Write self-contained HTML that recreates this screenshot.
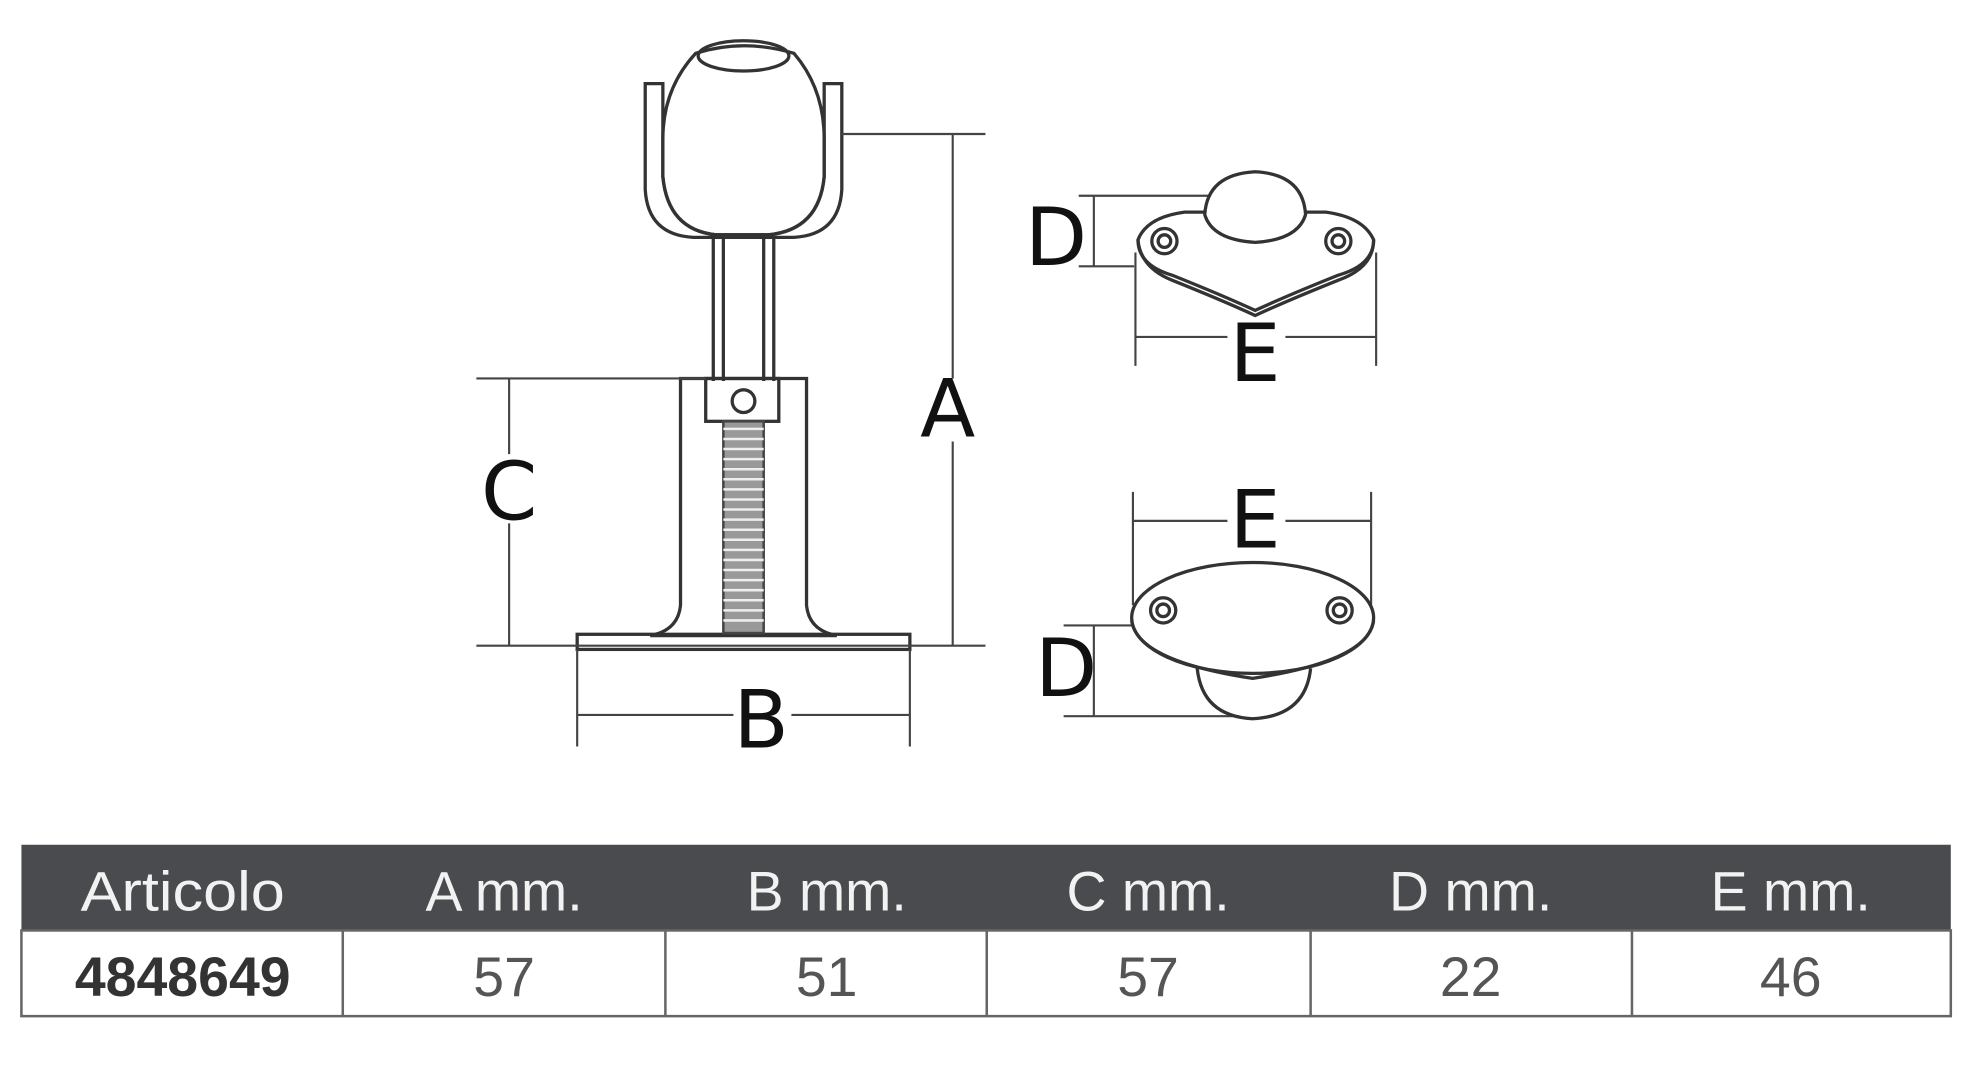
<!DOCTYPE html>
<html><head><meta charset="utf-8"><style>
html,body{margin:0;padding:0;background:#fff;}
svg{display:block}
</style></head><body>
<svg width="1976" height="1072" viewBox="0 0 1568 850" xmlns="http://www.w3.org/2000/svg">
<rect width="1568" height="850" fill="#fff"/>
<g fill="none" stroke="#333" stroke-width="2.6">
<path d="M512 66 L526 66 L526 140 Q530 182 568 186 L610 186 Q650 182 654 140 L654 66 L668 66 L668 150 Q666 186 630 188 L550 188 Q514 186 512 150 Z"/>
<path d="M526 110 Q526 70 552 42 Q590 30 630 42 Q654 70 654 110 L654 140 Q650 182 610 186 L568 186 Q530 182 526 140 Z"/>
<ellipse cx="590" cy="44" rx="36" ry="12"/>
<line x1="566" y1="188" x2="566" y2="302"/><line x1="574" y1="188" x2="574" y2="302"/>
<line x1="606" y1="188" x2="606" y2="302"/><line x1="614" y1="188" x2="614" y2="302"/>
<path d="M540 300 L640 300 L640 480 Q642 500 664 504 L516 504 Q538 500 540 480 Z"/>
<rect x="560" y="300" width="58" height="34"/>
<circle cx="590" cy="318" r="9"/>
<rect x="458" y="503" width="264" height="12"/>
</g>
<g stroke="#444" stroke-width="2">
<rect x="574" y="334" width="32" height="168" fill="#999"/>
</g>
<g stroke="#eee" stroke-width="2">
<line x1="574" y1="340" x2="606" y2="340"/><line x1="574" y1="348" x2="606" y2="348"/><line x1="574" y1="356" x2="606" y2="356"/><line x1="574" y1="364" x2="606" y2="364"/><line x1="574" y1="372" x2="606" y2="372"/><line x1="574" y1="380" x2="606" y2="380"/><line x1="574" y1="388" x2="606" y2="388"/><line x1="574" y1="396" x2="606" y2="396"/><line x1="574" y1="404" x2="606" y2="404"/><line x1="574" y1="412" x2="606" y2="412"/><line x1="574" y1="420" x2="606" y2="420"/><line x1="574" y1="428" x2="606" y2="428"/><line x1="574" y1="436" x2="606" y2="436"/><line x1="574" y1="444" x2="606" y2="444"/><line x1="574" y1="452" x2="606" y2="452"/><line x1="574" y1="460" x2="606" y2="460"/><line x1="574" y1="468" x2="606" y2="468"/><line x1="574" y1="476" x2="606" y2="476"/><line x1="574" y1="484" x2="606" y2="484"/><line x1="574" y1="492" x2="606" y2="492"/>
</g>
<g stroke="#444" stroke-width="1.7" fill="none">
<line x1="668" y1="106" x2="782" y2="106"/><line x1="756" y1="106" x2="756" y2="300"/><line x1="756" y1="350" x2="756" y2="512"/>
<line x1="378" y1="512" x2="782" y2="512"/>
<line x1="378" y1="300" x2="560" y2="300"/>
<line x1="404" y1="300" x2="404" y2="360"/><line x1="404" y1="415" x2="404" y2="512"/>
<line x1="458" y1="515" x2="458" y2="592"/><line x1="722" y1="515" x2="722" y2="592"/>
<line x1="458" y1="567" x2="582" y2="567"/><line x1="628" y1="567" x2="722" y2="567"/>
<line x1="856" y1="155" x2="960" y2="155"/><line x1="856" y1="211" x2="900" y2="211"/><line x1="868" y1="155" x2="868" y2="211"/>
<line x1="901" y1="200" x2="901" y2="290"/><line x1="1092" y1="200" x2="1092" y2="290"/>
<line x1="901" y1="267" x2="974" y2="267"/><line x1="1020" y1="267" x2="1092" y2="267"/>
<line x1="899" y1="390" x2="899" y2="480"/><line x1="1088" y1="390" x2="1088" y2="480"/>
<line x1="899" y1="413" x2="974" y2="413"/><line x1="1020" y1="413" x2="1088" y2="413"/>
<line x1="844" y1="496" x2="898" y2="496"/><line x1="844" y1="568" x2="990" y2="568"/><line x1="868" y1="496" x2="868" y2="568"/>
</g>
<g fill="none" stroke="#333" stroke-width="2.6">
<path d="M940 168 Q910 172 903 190 Q903 210 930 218 Q970 234 996 246 Q1022 234 1062 218 Q1090 210 1090 190 Q1082 172 1052 168 Z"/>
<path d="M903 190 Q905 212 930 222 Q970 238 996 250 Q1022 238 1062 222 Q1090 212 1090 190" />
<circle cx="924" cy="191" r="10"/><circle cx="924" cy="191" r="5"/>
<circle cx="1062" cy="191" r="10"/><circle cx="1062" cy="191" r="5"/>
<path d="M956 170 Q958 138 996 136 Q1034 138 1036 170 Q1030 190 996 192 Q962 190 956 170 Z" fill="#fff"/>
<path d="M950 530 Q954 568 994 570 Q1036 568 1040 530" fill="#fff"/>
<ellipse cx="994" cy="490" rx="96" ry="44" fill="#fff"/>
<path d="M898 492 Q902 524 994 538 Q1086 524 1090 492"/>
<circle cx="923" cy="484" r="10"/><circle cx="923" cy="484" r="5"/>
<circle cx="1063" cy="484" r="10"/><circle cx="1063" cy="484" r="5"/>
</g>
<g font-family="'DejaVu Sans','Liberation Sans',sans-serif" font-size="64" fill="#111" text-anchor="middle">
<text x="752" y="346">A</text>
<text x="404" y="412">C</text>
<text x="604" y="593">B</text>
<text x="838" y="210">D</text>
<text x="996" y="302">E</text>
<text x="996" y="434">E</text>
<text x="846" y="552">D</text>
</g>
<rect x="17" y="670" width="1531" height="68" fill="#4a4b4e"/>
<rect x="17" y="738" width="1531" height="68" fill="#fff" stroke="#666" stroke-width="2"/>
<g stroke="#666" stroke-width="2">
<line x1="272" y1="738" x2="272" y2="806"/><line x1="528" y1="738" x2="528" y2="806"/><line x1="783" y1="738" x2="783" y2="806"/><line x1="1040" y1="738" x2="1040" y2="806"/><line x1="1295" y1="738" x2="1295" y2="806"/>
</g>
<g font-family="'Liberation Sans',sans-serif" font-size="44" fill="#f2f2f2" text-anchor="middle">
<text x="145" y="722" textLength="162" lengthAdjust="spacingAndGlyphs">Articolo</text>
<text x="400" y="722">A mm.</text>
<text x="656" y="722">B mm.</text>
<text x="911" y="722">C mm.</text>
<text x="1167" y="722">D mm.</text>
<text x="1421" y="722">E mm.</text>
</g>
<g font-family="'Liberation Sans',sans-serif" font-size="44" fill="#555" text-anchor="middle">
<text x="145" y="790" font-weight="bold" fill="#333">4848649</text>
<text x="400" y="790">57</text>
<text x="656" y="790">51</text>
<text x="911" y="790">57</text>
<text x="1167" y="790">22</text>
<text x="1421" y="790">46</text>
</g>
</svg>
</body></html>
